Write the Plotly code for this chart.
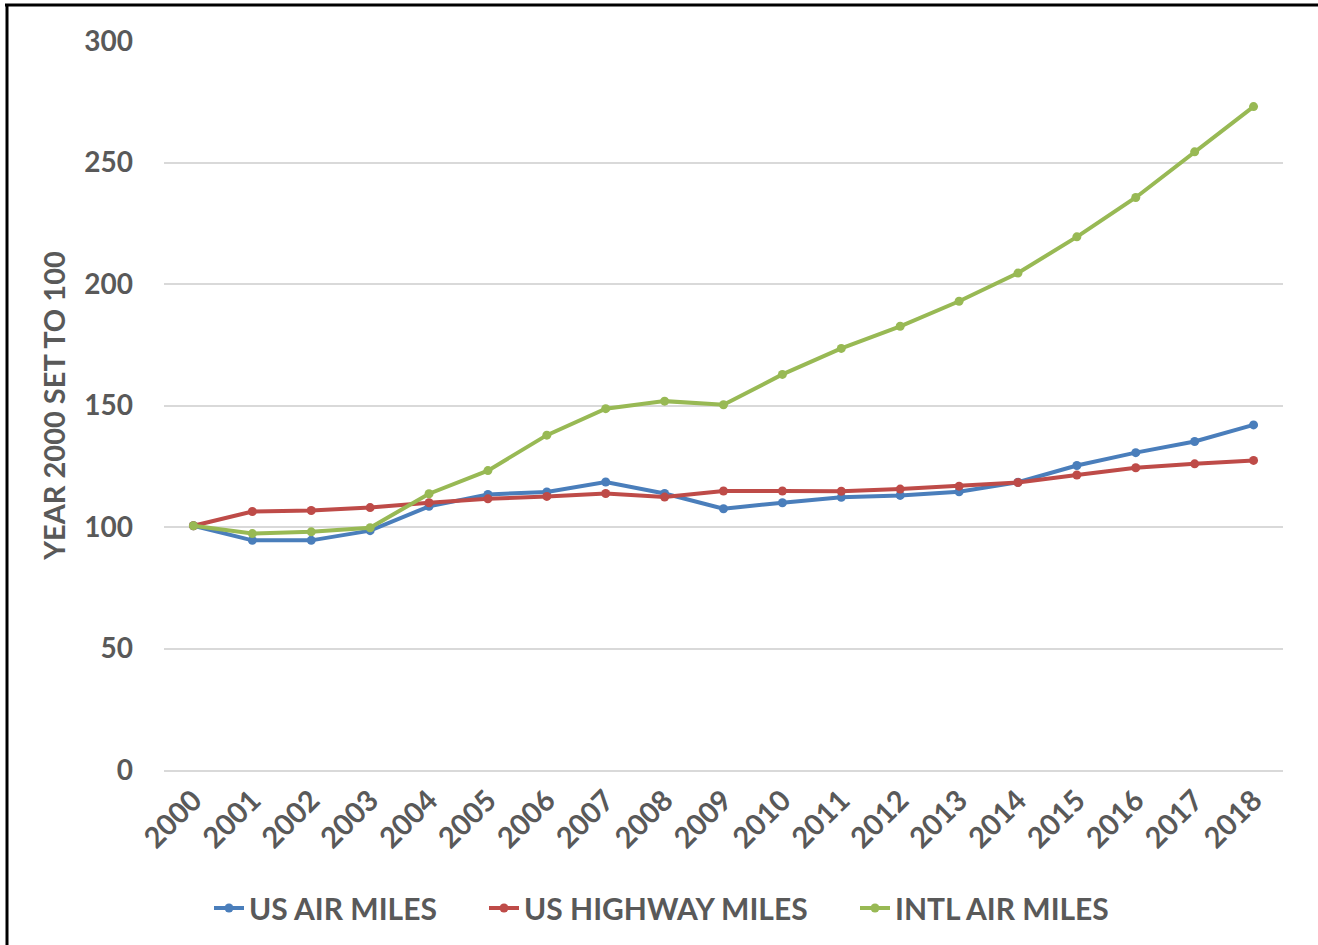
import plotly.graph_objects as go

years = [str(y) for y in range(2000, 2019)]
us_air = [100.5, 94.5, 94.5, 98.5, 108.5, 113.4, 114.4, 118.5, 113.8, 107.5,
          110.0, 112.2, 113.0, 114.5, 118.4, 125.3, 130.6, 135.2, 142.0]
us_highway = [100.5, 106.4, 106.8, 108.0, 110.0, 111.6, 112.6, 113.8, 112.3, 114.8,
              114.8, 114.7, 115.6, 116.8, 118.3, 121.4, 124.4, 126.0, 127.4]
intl_air = [100.5, 97.3, 98.0, 99.7, 113.7, 123.2, 137.8, 148.7, 151.8, 150.3,
            162.8, 173.5, 182.6, 192.9, 204.5, 219.4, 235.6, 254.4, 273.0]

series = [
    ("US AIR MILES", us_air, "#4A7EBB", "legend", 212),
    ("US HIGHWAY MILES", us_highway, "#BE4B48", "legend2", 487),
    ("INTL AIR MILES", intl_air, "#98B954", "legend3", 858),
]

FONT = "Lato"
GRAY = "#595959"
L, R, T, B = 164, 35, 41, 174
PW = 1318 - L - R
PH = 945 - T - B


def px_x(px):
    return (px - L) / PW


def px_y(py):
    return (945 - B - py) / PH


fig = go.Figure()
legends = {}
for name, vals, color, lg, lx in series:
    fig.add_trace(go.Scatter(
        x=years, y=vals, name=name, mode="lines+markers",
        line=dict(color=color, width=4),
        marker=dict(color=color, size=9),
        legend=lg,
    ))
    legends[lg] = dict(
        x=px_x(lx - 3), xanchor="left", y=px_y(908), yanchor="middle",
        orientation="h", bgcolor="rgba(0,0,0,0)",
        font=dict(family=FONT, size=30, color=GRAY, weight="bold"),
        itemwidth=30,
    )

fig.update_layout(
    width=1318, height=945,
    margin=dict(l=L, r=R, t=T, b=B),
    paper_bgcolor="white", plot_bgcolor="white",
    font=dict(family=FONT, color=GRAY, size=26),
    showlegend=True,
    **legends,
)
fig.update_xaxes(
    type="category", range=[-0.5, 18.5], tickangle=-45,
    tickfont=dict(family=FONT, size=29, color=GRAY, weight="bold"),
    showgrid=False, showline=True, linecolor="#D9D9D9", linewidth=1.5,
    ticks="", zeroline=False,
)
fig.update_yaxes(
    range=[0, 300], dtick=50,
    tickfont=dict(family=FONT, size=28, color=GRAY, weight="bold"),
    showgrid=True, gridcolor="#D9D9D9", gridwidth=1.5,
    zeroline=False, showline=False, ticks="", ticklabelstandoff=30,
    title=dict(text="YEAR 2000 SET TO 100", standoff=10,
               font=dict(family=FONT, size=29, color=GRAY, weight="bold")),
)

# Black frame along left and top edges
fig.add_shape(type="line", xref="paper", yref="paper",
              x0=px_x(7), x1=px_x(7), y0=px_y(4), y1=px_y(950),
              line=dict(color="black", width=3))
fig.add_shape(type="line", xref="paper", yref="paper",
              x0=px_x(5), x1=px_x(1320), y0=px_y(5), y1=px_y(5),
              line=dict(color="black", width=3))

fig.write_html("out.html")
